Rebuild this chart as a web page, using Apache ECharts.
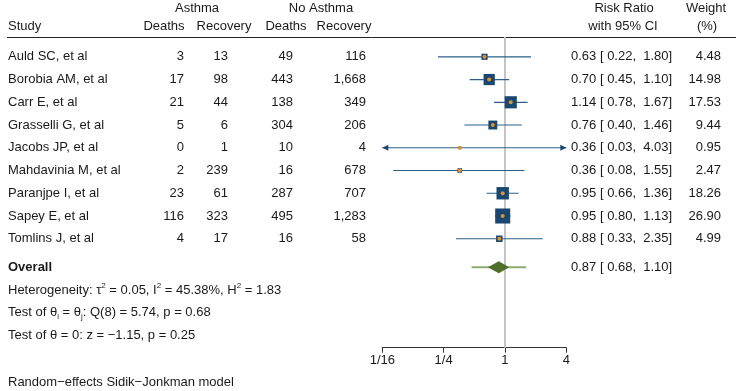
<!DOCTYPE html>
<html>
<head>
<meta charset="utf-8">
<script src="https://cdn.jsdelivr.net/npm/echarts@6/dist/echarts.min.js"></script>
<style>
  html, body { margin: 0; padding: 0; background: #fff; }
  #forest { width: 736px; height: 391px; }
</style>
</head>
<body>
<div id="forest"></div>
<script>
// study level data
const studies = ['Auld SC, et al', 'Borobia AM, et al', 'Carr E, et al', 'Grasselli G, et al', 'Jacobs JP, et al',
  'Mahdavinia M, et al', 'Paranjpe I, et al', 'Sapey E, et al', 'Tomlins J, et al']
const asthmaDeaths = [3, 17, 21, 5, 0, 2, 23, 116, 4]
const asthmaRecovery = [13, 98, 44, 6, 1, 239, 61, 323, 17]
const noAsthmaDeaths = [49, 443, 138, 304, 10, 16, 287, 495, 16]
const noAsthmaRecovery = [116, 1668, 349, 206, 4, 678, 707, 1283, 58]
const riskRatio = [0.63, 0.70, 1.14, 0.76, 0.36, 0.36, 0.95, 0.95, 0.88]
const ciLow = [0.22, 0.45, 0.78, 0.40, 0.03, 0.08, 0.66, 0.80, 0.33]
const ciHigh = [1.80, 1.10, 1.67, 1.46, 4.03, 1.55, 1.36, 1.13, 2.35]
const weights = [4.48, 14.98, 17.53, 9.44, 0.95, 2.47, 18.26, 26.90, 4.99]

// pooled estimate
const overallRR = [0.87]
const overallCI = [0.68, 1.10]
const overallPI = [0.47, 1.61]

const tickValues = [1 / 16, 1 / 4, 1, 4]
const tickLabels = ['1/16', '1/4', '1', '4']

const FONT = '13px "Liberation Sans", Arial, sans-serif'
const BOLD = 'bold 13px "Liberation Sans", Arial, sans-serif'
const TXT = '#1a1a1a'
const NAVY = '#1a476f'
const ORANGE = '#e0902e'

const xMin = Math.log2(tickValues[0])
const xMax = Math.log2(tickValues[tickValues.length - 1])
const overallRow = studies.length + 0.25

const fmt2 = v => v.toFixed(2)
const ciText = (e, l, h) => `${fmt2(e)} [ ${fmt2(l)},  ${fmt2(h)}]`

const studyData = studies.map((s, i) => [i, Math.log2(riskRatio[i]), Math.log2(ciLow[i]), Math.log2(ciHigh[i]), weights[i]])

const chart = echarts.init(document.getElementById('forest'), null, { renderer: 'canvas' })

function renderStudy(params, api) {
  const row = api.value(0)
  const lo = Math.max(api.value(2), xMin)
  const hi = Math.min(api.value(3), xMax)
  const pE = api.coord([api.value(1), row])
  const pL = api.coord([lo, row])
  const pH = api.coord([hi, row])
  const side = 2.9 * Math.sqrt(api.value(4))
  const kids = [{
    type: 'line',
    shape: { x1: pL[0], y1: pL[1], x2: pH[0], y2: pH[1] },
    style: { stroke: '#2f5f8a', lineWidth: 1.2 }
  }]
  if (api.value(2) < xMin) {
    kids.push({ type: 'polygon', shape: { points: [[pL[0], pL[1]], [pL[0] + 6, pL[1] - 3], [pL[0] + 6, pL[1] + 3]] }, style: { fill: NAVY } })
  }
  if (api.value(3) > xMax) {
    kids.push({ type: 'polygon', shape: { points: [[pH[0], pH[1]], [pH[0] - 6, pH[1] - 3], [pH[0] - 6, pH[1] + 3]] }, style: { fill: NAVY } })
  }
  kids.push({
    type: 'rect',
    shape: { x: pE[0] - side / 2, y: pE[1] - side / 2, width: side, height: side },
    style: { fill: NAVY }
  })
  kids.push({ type: 'circle', shape: { cx: pE[0], cy: pE[1], r: 2 }, style: { fill: ORANGE } })
  return { type: 'group', children: kids }
}

function renderOverall(params, api) {
  const row = api.value(0)
  const e = api.coord([api.value(1), row])
  const l = api.coord([api.value(2), row])
  const h = api.coord([api.value(3), row])
  const pl = api.coord([api.value(4), row])
  const ph = api.coord([api.value(5), row])
  return {
    type: 'group',
    children: [
      { type: 'line', shape: { x1: pl[0], y1: pl[1], x2: ph[0], y2: ph[1] }, style: { stroke: '#8fab70', lineWidth: 2 } },
      { type: 'polygon', shape: { points: [[l[0], l[1]], [e[0], e[1] - 6], [h[0], h[1]], [e[0], e[1] + 6]] }, style: { fill: '#4e6e2a' } }
    ]
  }
}

chart.setOption({
  animation: false,
  grid: { left: 382.3, right: 169.7, top: 37, bottom: 43.3 },
  xAxis: {
    type: 'value',
    position: 'bottom',
    min: xMin,
    max: xMax,
    interval: 2,
    splitLine: { show: false },
    axisLine: { show: true, onZero: false, lineStyle: { color: '#333', width: 1 } },
    axisTick: { show: true, length: 5, lineStyle: { color: '#333' } },
    axisLabel: {
      margin: 6,
      color: TXT,
      fontFamily: '"Liberation Sans", Arial, sans-serif',
      fontSize: 13,
      formatter: v => tickLabels[tickValues.findIndex(t => Math.abs(Math.log2(t) - v) < 1e-6)] || ''
    }
  },
  yAxis: {
    type: 'value',
    inverse: true,
    min: -0.87,
    max: 12.79,
    show: false
  },
  series: [
    {
      // no-effect reference line at RR = 1
      type: 'scatter',
      data: [],
      z: 1,
      markLine: {
        silent: true,
        z: 1,
        symbol: 'none',
        label: { show: false },
        lineStyle: { color: '#c4c4c4', width: 2, type: 'solid' },
        data: [{ xAxis: Math.log2(1) }]
      }
    },
    {
      type: 'custom',
      z: 3,
      renderItem: renderStudy,
      data: studyData
    },
    {
      type: 'custom',
      z: 3,
      renderItem: renderOverall,
      data: [[overallRow, Math.log2(overallRR[0]), Math.log2(overallCI[0]), Math.log2(overallCI[1]),
        Math.log2(overallPI[0]), Math.log2(overallPI[1])]]
    }
  ]
})

// table text, placed on the same row scale as the plot
const rowY = r => chart.convertToPixel({ yAxisIndex: 0 }, r)
const txt = (text, x, y, align, font) => ({
  type: 'text',
  silent: true,
  style: { text, x, y, align: align || 'left', verticalAlign: 'middle', font: font || FONT, fill: TXT }
})
const num = v => v.toLocaleString('en-US')

const g = []
// header
g.push(txt('Asthma', 197, 8, 'center'))
g.push(txt('No Asthma', 321, 8, 'center'))
g.push(txt('Risk Ratio', 624, 8, 'center'))
g.push(txt('Weight', 706, 8, 'center'))
g.push(txt('Study', 8, 26))
g.push(txt('Deaths', 164, 26, 'center'))
g.push(txt('Recovery', 224, 26, 'center'))
g.push(txt('Deaths', 286, 26, 'center'))
g.push(txt('Recovery', 344, 26, 'center'))
g.push(txt('with 95% CI', 623, 26, 'center'))
g.push(txt('(%)', 707, 26, 'center'))
g.push({ type: 'line', silent: true, shape: { x1: 7, y1: 37.5, x2: 736, y2: 37.5 }, style: { stroke: '#222', lineWidth: 1 } })

studies.forEach((s, i) => {
  const y = rowY(i)
  g.push(txt(s, 8, y))
  g.push(txt(num(asthmaDeaths[i]), 184, y, 'right'))
  g.push(txt(num(asthmaRecovery[i]), 228, y, 'right'))
  g.push(txt(num(noAsthmaDeaths[i]), 293, y, 'right'))
  g.push(txt(num(noAsthmaRecovery[i]), 366, y, 'right'))
  g.push(txt(ciText(riskRatio[i], ciLow[i], ciHigh[i]), 571, y))
  g.push(txt(weights[i].toFixed(2), 721, y, 'right'))
})

const oy = rowY(overallRow)
g.push(txt('Overall', 8, oy, 'left', BOLD))
g.push(txt(ciText(overallRR[0], overallCI[0], overallCI[1]), 571, oy))

const rich = {
  sup: { font: '8px "Liberation Sans", Arial, sans-serif', fill: TXT, verticalAlign: 'top', lineHeight: 16 },
  sub: { font: '8px "Liberation Sans", Arial, sans-serif', fill: TXT, verticalAlign: 'bottom', lineHeight: 16 },
  n: { font: FONT, fill: TXT, lineHeight: 16 }
}
const richTxt = (text, y) => ({
  type: 'text',
  silent: true,
  style: { text, x: 8, y, align: 'left', verticalAlign: 'middle', font: FONT, fill: TXT, rich }
})
g.push(richTxt('{n|Heterogeneity: τ}{sup|2}{n| = 0.05, I}{sup|2}{n| = 45.38%, H}{sup|2}{n| = 1.83}', rowY(overallRow + 1)))
g.push(richTxt('{n|Test of θ}{sub|i}{n| = θ}{sub|j}{n|: Q(8) = 5.74, p = 0.68}', rowY(overallRow + 2)))
g.push(txt('Test of θ = 0: z = −1.15, p = 0.25', 8, rowY(overallRow + 3)))
g.push(txt('Random−effects Sidik−Jonkman model', 8, 382))

chart.setOption({ graphic: g })
</script>
</body>
</html>
